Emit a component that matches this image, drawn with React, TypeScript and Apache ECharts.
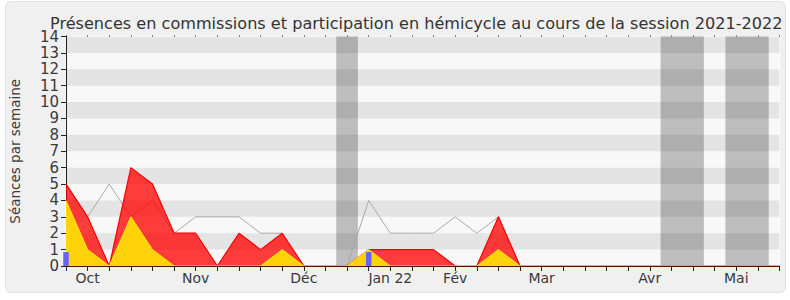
import React, { useEffect, useRef } from "react";
import * as echarts from "echarts";

// Week index (0 = first week of the session)
const weekCount = 33;
const monthTickIndex = [1, 6, 11, 15, 18, 22, 27, 31];
const monthLabels = ["Oct", "Nov", "Déc", "Jan 22", "Fév", "Mar", "Avr", "Mai"];

// Séances par semaine
const hemicycle = [5, 3, 5, 3, 4, 2, 3, 3, 3, 2, 2, 0, 0, 0, 4, 2, 2, 2, 3, 2, 3, 0, 0, 0, 0, 0, 0, 0, 0, 0, 0, 0, 0, 0];
const presenceTotal = [5, 3, 0, 6, 5, 2, 2, 0, 2, 1, 2, 0, 0, 0, 1, 1, 1, 1, 0, 0, 3, 0, 0, 0, 0, 0, 0, 0, 0, 0, 0, 0, 0, 0];
const presenceCommission = [4, 1, 0, 3, 1, 0, 0, 0, 0, 0, 1, 0, 0, 0, 1, 0, 0, 0, 0, 0, 1, 0, 0, 0, 0, 0, 0, 0, 0, 0, 0, 0, 0, 0];
const questionWeeks = [0, 14];
const questionValues = [0.85, 0.85];

// Holiday periods (week ranges)
const vacationStart = [12.5, 27.5, 30.5];
const vacationEnd = [13.5, 29.5, 32.5];

const yTicks = [0, 1, 2, 3, 4, 5, 6, 7, 8, 9, 10, 11, 12, 13, 14];

const FONT = "DejaVu Sans";

export default function App() {
  const ref = useRef<HTMLDivElement>(null);

  useEffect(() => {
    document.body.style.margin = "0";
    if (!ref.current) return;
    const chart = echarts.init(ref.current, null, { renderer: "svg" });

    const toPairs = (arr: number[]) => arr.map((v, i) => [i, v]);
    const stripes: any[] = [];
    for (let k = 1; k < yTicks.length - 1; k += 2) {
      stripes.push([{ yAxis: yTicks[k] }, { yAxis: yTicks[k + 1] }]);
    }
    const bands = vacationStart.map((s, i) => [{ xAxis: s }, { xAxis: vacationEnd[i] }]);
    const labelMap: Record<number, string> = {};
    monthTickIndex.forEach((t, i) => (labelMap[t] = monthLabels[i]));

    chart.setOption({
      animation: false,
      title: {
        text: "Présences en commissions et participation en hémicycle au cours de la session 2021-2022",
        left: 45,
        top: 9,
        textStyle: { fontFamily: FONT, fontSize: 16.1, lineHeight: 18, fontWeight: "normal", color: "#333" },
      },
      grid: {
        left: 62,
        top: 36.5,
        width: 717.5,
        height: 229.5,
        show: true,
        backgroundColor: "#f8f8f8",
        borderColor: "#ffffff",
        borderWidth: 1,
      },
      xAxis: [
        {
          type: "value",
          min: 0,
          max: weekCount,
          interval: 1,
          position: "bottom",
          z: 10,
          axisLine: { show: true, lineStyle: { color: "#5a1010", width: 1 } },
          axisTick: { show: true, length: 5, lineStyle: { color: "#222" } },
          splitLine: { show: false },
          axisLabel: {
            fontFamily: FONT,
            fontSize: 14,
            color: "#3a3a3a",
            margin: 5,
            formatter: (v: number) => labelMap[v] ?? "",
          },
        },
        {
          type: "value",
          min: 0,
          max: weekCount,
          interval: 1,
          position: "top",
          axisLine: { show: false },
          axisTick: { show: true, length: 1, lineStyle: { color: "#000" } },
          axisLabel: { show: false },
          splitLine: { show: false },
        },
      ],
      yAxis: {
        type: "value",
        min: 0,
        max: 14,
        interval: 1,
        name: "Séances par semaine",
        nameLocation: "middle",
        nameRotate: 90,
        nameGap: 44,
        nameTextStyle: { fontFamily: FONT, fontSize: 13.5, color: "#3a3a3a" },
        axisLine: { show: true, lineStyle: { color: "#222" } },
        axisTick: { show: true, length: 5, lineStyle: { color: "#222" } },
        splitLine: { show: false },
        axisLabel: {
          fontFamily: FONT,
          fontSize: 15,
          lineHeight: 15,
          color: "#3a3a3a",
          margin: 7,
        },
      },
      series: [
        {
          type: "line",
          data: [],
          silent: true,
          z: 1,
          markArea: { silent: true, itemStyle: { color: "#bdbdbd" }, data: bands },
        },
        {
          type: "line",
          data: [],
          silent: true,
          z: 2,
          markArea: { silent: true, itemStyle: { color: "rgba(0,0,0,0.078)" }, data: stripes },
        },
        {
          type: "line",
          data: toPairs(hemicycle),
          symbol: "none",
          z: 3,
          lineStyle: { color: "#aaaaaa", width: 1 },
        },
        {
          type: "line",
          data: toPairs(presenceTotal),
          symbol: "none",
          z: 4,
          lineStyle: { color: "#ff0000", width: 1.2 },
          areaStyle: { color: "rgba(255,0,0,0.76)", opacity: 1 },
        },
        {
          type: "line",
          data: toPairs(presenceCommission),
          symbol: "none",
          z: 5,
          lineStyle: { color: "#ffee00", width: 1 },
          areaStyle: { color: "#ffd20a", opacity: 1 },
        },
        {
          type: "bar",
          data: questionWeeks.map((w, i) => [w, questionValues[i]]),
          barWidth: 5.5,
          z: 6,
          itemStyle: { color: "#6464ff" },
        },
      ],
    });
    return () => chart.dispose();
  }, []);

  return (
    <div style={{ position: "relative", width: 790, height: 300, background: "#fff" }}>
      <div
        style={{
          position: "absolute",
          left: 5,
          top: 1,
          width: 779,
          height: 290,
          background: "#f0f0f0",
          border: "1px solid #e2e2e2",
          borderRadius: 6,
        }}
      />
      <div ref={ref} style={{ position: "absolute", left: 0, top: 0, width: 790, height: 300 }} />
    </div>
  );
}
